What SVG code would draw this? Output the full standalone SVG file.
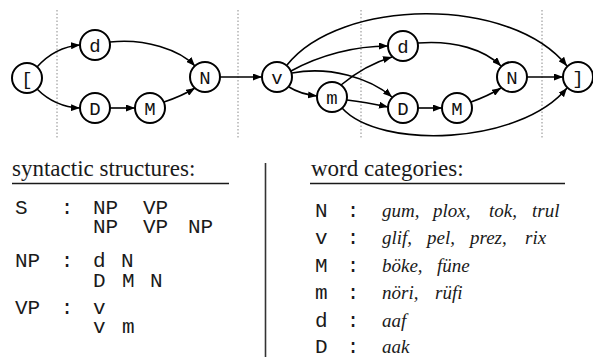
<svg xmlns="http://www.w3.org/2000/svg" width="593" height="362" viewBox="0 0 593 362">
<defs>
<marker id="ah" markerUnits="userSpaceOnUse" markerWidth="9" markerHeight="7" refX="9" refY="3.5" orient="auto">
<path d="M0,0 L9,3.5 L0,7 z" fill="#000"/>
</marker>
<style>
.node circle{fill:#fff;stroke:#000;stroke-width:2}
.node text{font-family:"Liberation Mono",monospace;font-size:19px;text-anchor:middle;fill:#111}
.edge{fill:none;stroke:#000;stroke-width:1.6;marker-end:url(#ah)}
.dot{stroke:#8a8a8a;stroke-width:1;stroke-dasharray:1.5 2}
.head{font-family:"Liberation Serif",serif;font-size:23px;fill:#1a1a1a}
.mono{font-family:"Liberation Mono",monospace;font-size:21px;fill:#1a1a1a}
.it{font-family:"Liberation Serif",serif;font-style:italic;font-size:19px;fill:#1a1a1a}
.rule{stroke:#1a1a1a;stroke-width:1.6}
</style>
</defs>
<rect width="593" height="362" fill="#fff"/>
<g id="dividers">
<line class="dot" x1="57" y1="10" x2="57" y2="138"/>
<line class="dot" x1="238" y1="10" x2="238" y2="138"/>
<line class="dot" x1="361" y1="10" x2="361" y2="138"/>
<line class="dot" x1="542" y1="10" x2="542" y2="138"/>
</g>
<g id="connectors">
<path class="edge" d="M37,67 Q55,47 80,45"/>
<path class="edge" d="M37,89 Q55,107 80,108"/>
<path class="edge" d="M110,42 C145,38 180,50 195,66"/>
<path class="edge" d="M110,108 L135,108"/>
<path class="edge" d="M164,102 Q182,96 195,88"/>
<path class="edge" d="M220,77 L262,77"/>
<path class="edge" d="M287,65 C340,-2 510,-5 567,66"/>
<path class="edge" d="M291,71 C320,55 355,46 388,46"/>
<path class="edge" d="M292,73 C330,66 370,78 392,97"/>
<path class="edge" d="M289,87 Q300,94 317,96"/>
<path class="edge" d="M341,85 Q365,65 392,57"/>
<path class="edge" d="M347,100 Q365,102 388,107"/>
<path class="edge" d="M342,108 C380,150 520,145 567,88"/>
<path class="edge" d="M418,43 C455,40 485,50 501,66"/>
<path class="edge" d="M418,108 L442,108"/>
<path class="edge" d="M471,102 Q488,96 501,88"/>
<path class="edge" d="M527,77 L563,77"/>
</g>
<g id="n_start" class="node"><circle cx="27" cy="78" r="15"/><text x="27" y="84.5">[</text></g>
<g id="n_d1" class="node"><circle cx="95" cy="45" r="15"/><text x="95" y="51.5">d</text></g>
<g id="n_D1" class="node"><circle cx="95" cy="108" r="15"/><text x="95" y="114.5">D</text></g>
<g id="n_M1" class="node"><circle cx="150" cy="108" r="15"/><text x="150" y="114.5">M</text></g>
<g id="n_N1" class="node"><circle cx="205" cy="77" r="15"/><text x="205" y="83.5">N</text></g>
<g id="n_v" class="node"><circle cx="277" cy="77" r="15"/><text x="277" y="83.5">v</text></g>
<g id="n_m" class="node"><circle cx="332" cy="97" r="15"/><text x="332" y="103.5">m</text></g>
<g id="n_d2" class="node"><circle cx="403" cy="46" r="15"/><text x="403" y="52.5">d</text></g>
<g id="n_D2" class="node"><circle cx="403" cy="108" r="15"/><text x="403" y="114.5">D</text></g>
<g id="n_M2" class="node"><circle cx="457" cy="108" r="15"/><text x="457" y="114.5">M</text></g>
<g id="n_N2" class="node"><circle cx="512" cy="77" r="15"/><text x="512" y="83.5">N</text></g>
<g id="n_end" class="node"><circle cx="578" cy="77" r="15"/><text x="578" y="83.5">]</text></g>
<g id="syntax">
<text class="head" x="12" y="176">syntactic structures:</text>
<line class="rule" x1="12" y1="183.5" x2="229" y2="183.5"/>
<text class="mono" x="15" y="214">S</text><text class="mono" x="67" y="214" text-anchor="middle">:</text>
<text class="mono" y="214"><tspan x="93">NP</tspan><tspan x="143">VP</tspan></text>
<text class="mono" y="233"><tspan x="93">NP</tspan><tspan x="143">VP</tspan><tspan x="188">NP</tspan></text>
<text class="mono" x="15" y="267">NP</text><text class="mono" x="67" y="267" text-anchor="middle">:</text>
<text class="mono" y="267"><tspan x="93">d</tspan><tspan x="121">N</tspan></text>
<text class="mono" y="287"><tspan x="93">D</tspan><tspan x="122">M</tspan><tspan x="150">N</tspan></text>
<text class="mono" x="15" y="314">VP</text><text class="mono" x="67" y="314" text-anchor="middle">:</text>
<text class="mono" x="93" y="314">v</text>
<text class="mono" y="333"><tspan x="93">v</tspan><tspan x="122">m</tspan></text>
</g>
<line id="separator" x1="265.5" y1="163" x2="265.5" y2="357" stroke="#333" stroke-width="1.6"/>
<g id="categories">
<text class="head" x="311" y="176">word categories:</text>
<line class="rule" x1="310" y1="183.5" x2="565" y2="183.5"/>
<text class="mono" x="315" y="217">N</text><text class="mono" x="353" y="217" text-anchor="middle">:</text>
<text class="it" y="217"><tspan x="382">gum,</tspan><tspan x="433">plox,</tspan><tspan x="489">tok,</tspan><tspan x="532">trul</tspan></text>
<text class="mono" x="315" y="244">v</text><text class="mono" x="353" y="244" text-anchor="middle">:</text>
<text class="it" y="244"><tspan x="382">glif,</tspan><tspan x="427">pel,</tspan><tspan x="470">prez,</tspan><tspan x="525">rix</tspan></text>
<text class="mono" x="315" y="272">M</text><text class="mono" x="353" y="272" text-anchor="middle">:</text>
<text class="it" y="272"><tspan x="382">böke,</tspan><tspan x="437">füne</tspan></text>
<text class="mono" x="315" y="299">m</text><text class="mono" x="353" y="299" text-anchor="middle">:</text>
<text class="it" y="299"><tspan x="382">nöri,</tspan><tspan x="435">rüfi</tspan></text>
<text class="mono" x="315" y="327">d</text><text class="mono" x="353" y="327" text-anchor="middle">:</text>
<text class="it" x="382" y="327">aaf</text>
<text class="mono" x="315" y="353">D</text><text class="mono" x="353" y="353" text-anchor="middle">:</text>
<text class="it" x="382" y="353">aak</text>
</g>
</svg>
